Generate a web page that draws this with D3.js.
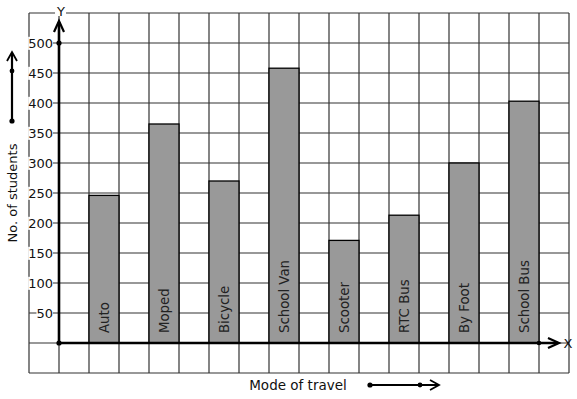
<!DOCTYPE html>
<html><head><meta charset="utf-8">
<script src="https://cdn.jsdelivr.net/npm/d3@7"></script>
<style>body{margin:0;background:#fff}svg{display:block}text{font-family:"DejaVu Sans",sans-serif;}</style>
</head><body><svg id="c" width="577" height="399"></svg>
<script>
const categories = ["Auto","Moped","Bicycle","School Van","Scooter","RTC Bus","By Foot","School Bus"];
const students = [246, 365, 270, 458, 171, 213, 300, 403];
const yTicks = [50,100,150,200,250,300,350,400,450,500];
const yTitle = "No. of students";
const xTitle = "Mode of travel";

const svg = d3.select("#c");
const x = d3.scaleLinear().domain([-1, 17]).range([29, 569]);
const y = d3.scaleLinear().domain([0, 500]).range([343, 43]);
const gridCol = "#333";

// grid
const g = svg.append("g");
d3.range(-1, 18).forEach(i => {
  g.append("line").attr("x1", x(i)).attr("x2", x(i)).attr("y1", y(550)).attr("y2", y(-50))
    .attr("stroke", gridCol).attr("stroke-width", 1.2);
});
d3.range(-50, 551, 50).forEach(v => {
  g.append("line").attr("x1", x(-1)).attr("x2", x(17)).attr("y1", y(v)).attr("y2", y(v))
    .attr("stroke", gridCol).attr("stroke-width", 1.2);
});

// bars
svg.append("g").selectAll("rect").data(categories).join("rect")
  .attr("x", (d, i) => x(2 * i + 1))
  .attr("width", (d, i) => x(2 * i + 2) - x(2 * i + 1))
  .attr("y", (d, i) => y(students[i]))
  .attr("height", (d, i) => y(0) - y(students[i]))
  .attr("fill", "#999999").attr("stroke", "#000").attr("stroke-width", 1.3);

// bar labels
svg.append("g").selectAll("text").data(categories).join("text")
  .attr("transform", (d, i) => `translate(${(x(2 * i + 1) + x(2 * i + 2)) / 2},${y(0) - 10}) rotate(-90)`)
  .attr("dy", "0.36em").attr("font-size", 13.3).attr("fill", "#222").text(d => d);

// y tick labels with white backgrounds
const bgL = svg.append("g");
const tl = svg.append("g");
yTicks.forEach(v => {
  const t = tl.append("text").attr("x", 53).attr("y", y(v)).attr("dy", "0.37em")
    .attr("text-anchor", "end").attr("font-size", 13).attr("fill", "#111").text(v);
  const b = t.node().getBBox();
  bgL.append("rect").attr("x", b.x).attr("y", b.y + 1).attr("width", b.width).attr("height", b.height - 2).attr("fill", "#fff");
});

// axes
const ax = svg.append("g").attr("stroke", "#000").attr("fill", "none");
ax.append("line").attr("x1", x(0)).attr("x2", x(0)).attr("y1", y(0)).attr("y2", 22).attr("stroke-width", 2.6);
ax.append("path").attr("d", `M${x(0) - 5},32 L${x(0)},21 L${x(0) + 5},32`).attr("stroke-width", 2.2);
ax.append("line").attr("x1", x(0)).attr("x2", 558).attr("y1", y(0)).attr("y2", y(0)).attr("stroke-width", 2.6);
ax.append("path").attr("d", `M548,${y(0) - 5} L559,${y(0)} L548,${y(0) + 5}`).attr("stroke-width", 2.2);
svg.append("circle").attr("cx", x(0)).attr("cy", y(500)).attr("r", 2.6);
svg.append("circle").attr("cx", x(0)).attr("cy", y(0)).attr("r", 2.6);
svg.append("circle").attr("cx", x(16)).attr("cy", y(0)).attr("r", 2.3);

// axis letters
const ybg = svg.append("rect").attr("fill", "#fff");
const yl = svg.append("text").attr("x", 61).attr("y", 16).attr("text-anchor", "middle").attr("font-size", 13).attr("fill", "#111").text("Y");
const yb = yl.node().getBBox();
ybg.attr("x", yb.x - 1).attr("y", 10).attr("width", yb.width + 2).attr("height", 6);
svg.append("text").attr("x", 568).attr("y", 348).attr("text-anchor", "middle").attr("font-size", 13).attr("fill", "#111").text("X");

// titles
svg.append("text").attr("transform", "translate(17,193) rotate(-90)").attr("text-anchor", "middle")
  .attr("font-size", 13).attr("fill", "#111").text(yTitle);
svg.append("text").attr("x", 298).attr("y", 390).attr("text-anchor", "middle")
  .attr("font-size", 13.5).attr("fill", "#111").text(xTitle);

// decorative arrows
const da = svg.append("g").attr("stroke", "#000").attr("fill", "none");
da.append("line").attr("x1", 12).attr("x2", 12).attr("y1", 121).attr("y2", 53).attr("stroke-width", 2.2);
da.append("path").attr("d", "M7,61 L12,52 L17,61").attr("stroke-width", 1.8);
svg.append("circle").attr("cx", 12).attr("cy", 121).attr("r", 2.6);
svg.append("circle").attr("cx", 12).attr("cy", 71).attr("r", 2.4);
da.append("line").attr("x1", 370).attr("x2", 438).attr("y1", 385).attr("y2", 385).attr("stroke-width", 2.2);
da.append("path").attr("d", "M430,380 L439,385 L430,390").attr("stroke-width", 1.8);
svg.append("circle").attr("cx", 370).attr("cy", 385).attr("r", 2.6);
svg.append("circle").attr("cx", 420).attr("cy", 385).attr("r", 2.4);
</script></body></html>
